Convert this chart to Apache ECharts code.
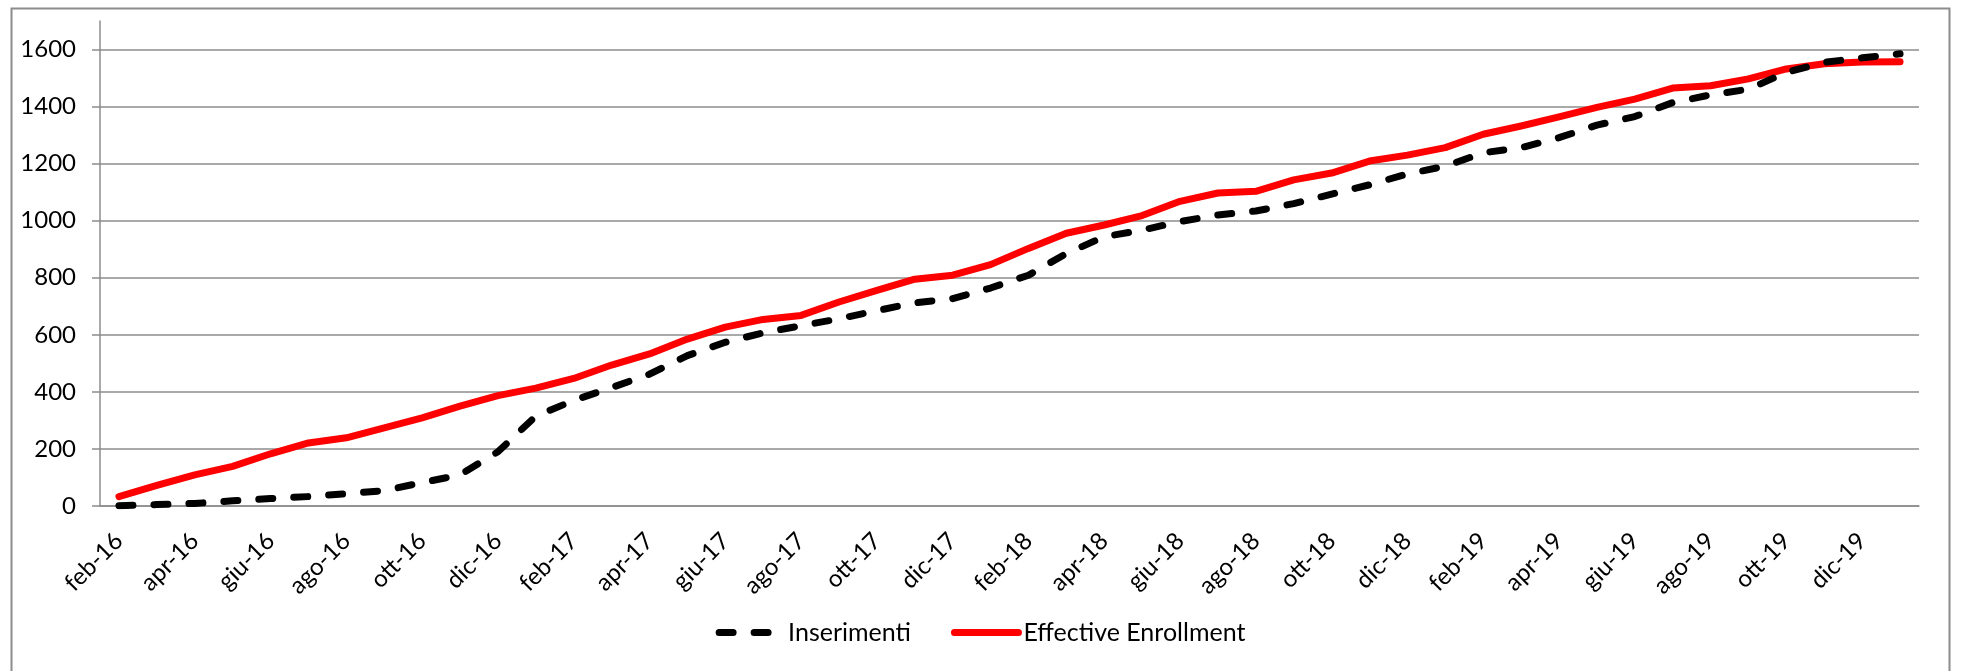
<!DOCTYPE html>
<html>
<head>
<meta charset="utf-8">
<script src="https://cdn.jsdelivr.net/npm/echarts@6.0.0/dist/echarts.min.js"></script>
<style>
  html, body { margin: 0; padding: 0; background: #fff; }
  #chart { width: 1961px; height: 671px; }
</style>
</head>
<body>
<div id="chart"></div>
<script>
// mesi feb-16 .. gen-20
var categories = [
  "feb-16", "mar-16", "apr-16", "mag-16", "giu-16", "lug-16", "ago-16", "set-16", "ott-16", "nov-16", "dic-16",
  "gen-17", "feb-17", "mar-17", "apr-17", "mag-17", "giu-17", "lug-17", "ago-17", "set-17", "ott-17", "nov-17", "dic-17",
  "gen-18", "feb-18", "mar-18", "apr-18", "mag-18", "giu-18", "lug-18", "ago-18", "set-18", "ott-18", "nov-18", "dic-18",
  "gen-19", "feb-19", "mar-19", "apr-19", "mag-19", "giu-19", "lug-19", "ago-19", "set-19", "ott-19", "nov-19", "dic-19",
  "gen-20"
];

var inserimenti = [
  1, 5, 9, 18, 26, 33, 43, 54, 82, 109, 190,
  315, 370, 415, 462, 527, 574, 607, 632, 656, 685, 712, 727,
  764, 809, 885, 944, 967, 997, 1020, 1034, 1060, 1093, 1126, 1164,
  1191, 1238, 1256, 1291, 1335, 1365, 1414, 1441, 1461, 1520, 1555, 1571,
  1585
];

var effectiveEnrollment = [
  33, 72, 109, 139, 183, 221, 239, 274, 309, 350, 387,
  413, 447, 494, 533, 585, 627, 654, 668, 715, 756, 795, 809,
  846, 903, 956, 985, 1018, 1068, 1097, 1103, 1143, 1167, 1209, 1230,
  1256, 1303, 1332, 1364, 1397, 1426, 1465, 1473, 1497, 1532, 1550, 1556,
  1557
];

var yTicks = [0, 200, 400, 600, 800, 1000, 1200, 1400, 1600];

var FONT = "Lato";
var GRID_COLOR = "#8c8c8c";

var chart = echarts.init(document.getElementById("chart"));

// la linea a 1700 (fine asse) non va disegnata
var splitColors = yTicks.map(function () { return GRID_COLOR; });
splitColors.push("rgba(0,0,0,0)");

var option = {
  animation: false,
  backgroundColor: "#fff",
  textStyle: { fontFamily: FONT },
  graphic: [
    {
      type: "rect",
      left: 9,
      top: 6,
      shape: { width: 1938, height: 700 },
      style: { fill: "none", stroke: "#8c8c8c", lineWidth: 2 },
      silent: true
    }
  ],
  grid: {
    left: 100,
    right: 42,
    top: 21,
    bottom: 165
  },
  legend: {
    left: "center",
    top: 615,
    itemWidth: 64,
    itemHeight: 14,
    itemGap: 40,
    itemStyle: { opacity: 0 },
    lineStyle: { width: 7 },
    textStyle: { fontFamily: FONT, fontSize: 25, color: "#000" },
    data: ["Inserimenti", "Effective Enrollment"]
  },
  xAxis: {
    type: "category",
    data: categories,
    boundaryGap: true,
    axisLine: { lineStyle: { color: GRID_COLOR, width: 1.5 } },
    axisTick: { interval: 1, length: 8, lineStyle: { color: GRID_COLOR, width: 1.5 } },
    axisLabel: {
      interval: 1,
      rotate: 45,
      margin: 31,
      fontFamily: FONT,
      fontSize: 24,
      color: "#000"
    },
    splitLine: { show: false }
  },
  yAxis: {
    type: "value",
    min: 0,
    max: 1700,
    interval: 200,
    axisLine: { show: true, lineStyle: { color: GRID_COLOR, width: 1.5 } },
    axisTick: { show: true, length: 8, customValues: yTicks, lineStyle: { color: GRID_COLOR, width: 1.5 } },
    axisLabel: {
      customValues: yTicks,
      margin: 24,
      fontFamily: FONT,
      fontSize: 24,
      color: "#000",
      formatter: function (v) { return String(v); }
    },
    splitLine: { show: true, lineStyle: { color: splitColors, width: 1.5 } }
  },
  series: [
    {
      name: "Inserimenti",
      type: "line",
      data: inserimenti,
      symbol: "none",
      z: 3,
      lineStyle: { color: "#000", width: 7, type: [14, 21], cap: "round", join: "round" },
      itemStyle: { color: "#000" }
    },
    {
      name: "Effective Enrollment",
      type: "line",
      data: effectiveEnrollment,
      symbol: "none",
      z: 2,
      lineStyle: { color: "#ff0000", width: 7, cap: "round", join: "round" },
      itemStyle: { color: "#ff0000" }
    }
  ]
};

chart.setOption(option);
</script>
</body>
</html>
